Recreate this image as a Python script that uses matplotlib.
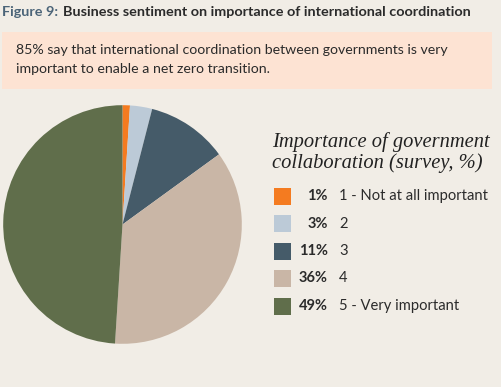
import matplotlib.pyplot as plt
from matplotlib.patches import Rectangle

W, H = 502, 387

# data
levels = ['1 - Not at all important', '2', '3', '4', '5 - Very important']
shares = [1, 3, 11, 36, 49]
colors = ['#f47b20', '#bccad7', '#455b69', '#c9b6a6', '#606e4b']

bg = '#f1ede6'

def fx(x):
    return x / W

def fy(y):
    return 1 - y / H

fig = plt.figure(figsize=(W / 100, H / 100), dpi=100, facecolor=bg)

# title
fig.text(fx(2), fy(12), 'Figure 9:', color='#4b6478', fontsize=10.4,
         fontweight='bold', family='Lato', va='center', ha='left')
fig.text(fx(63), fy(12), 'Business sentiment on importance of international coordination',
         color='#2b2b2b', fontsize=10.4, fontweight='bold', family='Lato',
         va='center', ha='left')

# callout box
fig.patches.append(Rectangle((fx(2), fy(89)), fx(490), 57 / H, transform=fig.transFigure,
                             facecolor='#fde3d3', edgecolor='none'))
fig.text(fx(16), fy(50), '85% say that international coordination between governments is very',
         color='#2b2b2b', fontsize=10.2, family='Lato', va='center')
fig.text(fx(16), fy(69), 'important to enable a net zero transition.',
         color='#2b2b2b', fontsize=10.2, family='Lato', va='center')

# pie
ax = fig.add_axes([fx(2), fy(345), 241 / W, 241 / H])
ax.pie(shares, colors=colors, startangle=90, counterclock=False,
       wedgeprops={'linewidth': 0})
ax.set_aspect('equal')
ax.set_xlim(-1.01, 1.01)
ax.set_ylim(-1.01, 1.01)
ax.axis('off')

# legend title
fig.text(fx(272), fy(142), 'Importance of government', family='Liberation Serif',
         style='italic', fontsize=14.8, color='#222222', va='center')
fig.text(fx(272), fy(163), 'collaboration (survey, %)', family='Liberation Serif',
         style='italic', fontsize=14.8, color='#222222', va='center')

rows = [196, 224, 251, 278, 306]
for y, c, s, lab in zip(rows, colors, shares, levels):
    fig.patches.append(Rectangle((fx(274), fy(y + 8.5)), 17 / W, 17 / H,
                                 transform=fig.transFigure, facecolor=c, edgecolor='none'))
    fig.text(fx(328), fy(y), f'{s}%', ha='right', va='center', fontsize=10.5,
             fontweight='bold', family='Lato', color='#2b2b2b')
    fig.text(fx(339), fy(y), lab, ha='left', va='center', fontsize=10.6,
             family='Lato', color='#2b2b2b')

fig.savefig('out.png', dpi=100, facecolor=bg)
